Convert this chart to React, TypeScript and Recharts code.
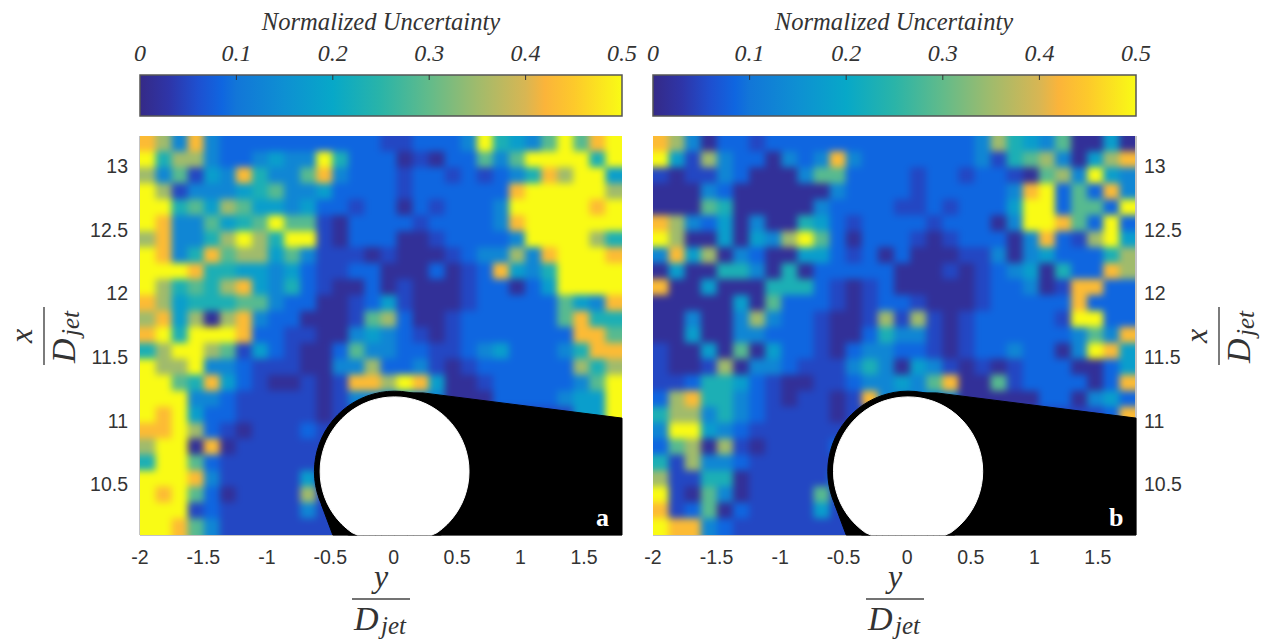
import React from 'react';
import { ScatterChart, Scatter, XAxis, YAxis, ReferenceArea } from 'recharts';

// Levels of uncertainty per cell, top row first, left column first.
const panelA: number[][] = [
  [8,7,3,8,3,2,2,2,2,2,2,2,2,2,2,1,1,2,2,2,3,9,5,4,3,6,9,6,8,9],
  [9,5,7,7,3,2,2,3,4,3,3,9,5,2,2,2,0,1,0,2,2,6,3,6,9,9,9,9,5,9],
  [7,3,6,1,4,3,8,5,3,3,6,8,3,2,2,2,1,2,2,1,2,1,2,3,5,8,7,9,9,4],
  [9,7,1,3,3,3,4,5,6,3,3,4,2,2,2,2,1,2,2,2,2,2,2,8,9,9,9,9,9,7],
  [9,9,5,6,4,7,6,4,4,3,4,2,2,1,2,2,0,2,1,2,2,2,3,9,9,9,9,9,8,9],
  [9,8,3,3,6,4,5,6,9,6,6,1,0,2,2,2,2,1,2,2,2,2,3,8,9,9,9,9,9,9],
  [7,8,3,3,5,7,9,7,5,9,9,1,0,2,2,2,0,0,1,2,2,2,2,3,9,9,9,9,7,5],
  [9,8,3,5,8,6,7,7,4,6,3,1,1,1,0,1,0,0,0,1,2,3,3,7,3,8,9,9,9,8],
  [9,9,9,8,5,5,4,4,3,4,2,1,1,2,2,0,0,0,2,0,1,2,8,4,3,5,9,9,9,9],
  [9,7,5,6,5,7,8,4,3,5,2,1,0,0,2,0,1,0,0,0,1,2,2,0,2,4,9,9,9,9],
  [8,7,4,5,5,5,6,6,3,2,2,0,0,1,2,4,1,0,0,0,1,2,2,2,2,2,6,4,3,8],
  [7,8,4,7,0,7,8,3,2,2,0,0,0,1,6,7,2,0,0,1,2,2,2,2,2,2,6,8,5,5],
  [8,9,5,9,9,9,8,2,2,1,1,0,0,3,4,3,2,1,0,1,2,2,2,2,2,2,2,8,8,6],
  [5,7,9,9,7,6,1,4,2,1,0,0,2,6,3,3,2,2,1,1,2,3,4,2,2,2,3,5,8,8],
  [9,7,7,9,3,3,2,1,1,1,0,0,3,3,7,2,2,3,1,0,1,2,2,2,2,2,2,7,5,7],
  [9,9,6,5,8,4,2,1,0,0,1,0,1,8,8,7,9,8,4,0,0,1,2,2,2,2,2,3,6,9],
  [9,9,9,3,3,2,1,1,1,1,1,0,1,3,3,3,3,3,3,0,0,0,2,2,2,2,3,4,4,9],
  [9,8,9,4,2,2,1,1,1,1,1,0,1,1,1,1,1,1,1,1,1,1,1,1,1,1,1,4,4,9],
  [8,8,9,7,2,1,0,1,1,1,2,1,1],
  [7,9,9,0,8,0,1,1,1,1,1,1,1],
  [5,9,9,6,2,1,1,1,1,1,1,1,1],
  [9,9,9,8,3,1,1,1,1,1,4,1,1],
  [9,8,9,6,2,0,1,1,1,1,7,1,1],
  [9,9,9,1,2,1,1,1,1,1,3,1,1],
  [9,9,8,6,3,1,1,1,1,1,1,1,1],
];

const panelB: number[][] = [
  [8,7,3,0,2,2,1,2,2,2,2,2,2,2,2,2,2,2,2,2,3,7,5,4,3,6,0,0,4,0],
  [9,4,1,7,3,2,2,0,3,2,3,8,3,2,2,2,2,2,2,2,3,1,5,6,7,3,0,4,7,8],
  [1,0,1,1,3,2,0,0,0,3,6,6,2,2,2,2,1,2,2,1,2,2,1,0,6,7,3,9,4,3],
  [0,0,0,3,2,0,0,0,0,0,0,3,2,2,2,2,1,2,2,2,2,2,3,8,9,2,6,2,8,3],
  [0,0,0,6,5,0,0,0,0,0,3,2,2,2,2,1,1,2,1,2,2,2,4,9,9,2,6,6,2,9],
  [8,7,3,2,4,0,3,0,0,5,4,2,1,2,2,2,2,1,2,2,2,0,3,9,9,8,6,2,9,2],
  [9,7,0,0,4,0,4,3,7,9,6,2,0,2,2,2,1,0,1,2,2,2,0,3,8,2,1,7,9,4],
  [3,8,4,7,0,3,2,0,0,4,4,2,1,2,0,2,0,0,0,1,1,3,0,3,4,2,2,2,5,7],
  [0,4,0,0,5,5,3,0,5,0,2,2,2,2,2,0,0,0,1,0,1,2,3,4,0,5,2,2,8,7],
  [8,0,0,4,0,0,0,5,5,5,2,1,0,1,2,0,0,0,0,0,1,2,2,3,0,1,8,8,2,2],
  [0,0,0,0,0,4,0,6,2,2,2,1,0,1,2,2,1,0,0,0,1,2,2,2,2,2,8,2,2,2],
  [0,0,3,0,0,3,7,3,2,2,1,0,0,1,7,1,7,1,0,1,2,2,2,2,2,1,9,9,2,2],
  [0,0,4,0,0,3,3,2,2,2,1,0,0,2,5,3,3,1,0,1,2,2,2,2,2,2,3,6,3,8],
  [1,0,0,4,0,6,0,4,2,2,1,0,2,3,3,2,2,1,0,1,2,2,3,2,2,0,3,9,8,4],
  [1,0,0,1,7,0,3,3,2,1,1,1,3,5,3,0,4,3,1,0,1,0,1,2,2,2,0,0,2,4],
  [1,1,2,5,5,4,2,1,0,0,1,1,2,3,3,4,3,6,8,0,0,6,1,2,2,2,2,0,2,8],
  [2,7,8,5,5,3,2,1,0,1,1,0,1,8,3,3,3,3,3,0,0,0,0,0,2,2,0,3,4,2],
  [5,7,7,3,5,3,2,1,1,1,1,0,1,1,1,1,1,1,1,1,1,1,1,1,1,1,1,1,2,8],
  [3,9,9,4,3,2,1,1,1,1,1,1,1],
  [2,6,7,0,7,1,0,1,1,1,1,2,3],
  [5,1,7,3,3,2,1,1,1,1,1,1,1],
  [7,1,1,5,5,0,1,1,1,1,1,3,1],
  [9,1,0,6,3,0,1,1,1,1,6,1,1],
  [8,1,2,6,0,2,1,1,1,1,4,1,1],
  [9,8,8,3,2,1,1,1,1,1,1,1,1],
];

const levelValues = [0.015, 0.05, 0.085, 0.13, 0.18, 0.23, 0.29, 0.35, 0.43, 0.5];
const xTicks = [-2, -1.5, -1, -0.5, 0, 0.5, 1, 1.5];
const yTicks = [10.5, 11, 11.5, 12, 12.5, 13];
const barTicks = [0, 0.1, 0.2, 0.3, 0.4, 0.5];
const barInnerTicks = [0.1, 0.2, 0.3, 0.4];
const colorStops: [number, string][] = [
  [0, '#352a87'], [0.03, '#2e35a8'], [0.06, '#1e50d0'], [0.085, '#0f66e0'], [0.1, '#1276d8'],
  [0.15, '#0e90d2'], [0.2, '#07a8c8'], [0.25, '#2ab4a8'], [0.3, '#62bb8a'], [0.35, '#a0bb6c'],
  [0.4, '#d8b653'], [0.42, '#fbb43a'], [0.45, '#fdc92b'], [0.5, '#f9fb15'],
];
const wedge = [
  { x: 0, y: 11.22 }, { x: 0.232, y: 11.218 }, { x: 1.8, y: 11.02 }, { x: 1.8, y: 10.1 },
  { x: -0.48, y: 10.1 }, { x: -0.57, y: 10.34 }, { x: 0, y: 10.6 },
];

const X0 = -2, X1 = 1.8, Y0 = 10.1, Y1 = 13.24;
const NC = 30, NR = 25;
const CX = 0.007, CY = 10.6, R_OUT = 0.632, R_IN = 0.587;

function hex(c: string) { return [1, 3, 5].map((i) => parseInt(c.slice(i, i + 2), 16)); }
function colorOf(v: number) {
  for (let i = 1; i < colorStops.length; i++) {
    const [a, ca] = colorStops[i - 1];
    const [b, cb] = colorStops[i];
    if (v <= b) {
      const t = (v - a) / (b - a);
      const p = hex(ca), q = hex(cb);
      return `rgb(${p.map((e, k) => Math.round(e + (q[k] - e) * t)).join(',')})`;
    }
  }
  return colorStops[colorStops.length - 1][1];
}
function cells(panel: number[][]) {
  const out: any[] = [];
  panel.forEach((row, r) => row.forEach((lv, c) => {
    out.push({
      x: X0 + ((c + 0.5) * (X1 - X0)) / NC,
      y: Y1 - ((r + 0.5) * (Y1 - Y0)) / NR,
      v: levelValues[lv],
      edgeL: c === 0, edgeR: c === NC - 1, edgeT: r === 0, edgeB: r === NR - 1,
    });
  }));
  return out;
}
function disc(radius: number) {
  const pts: { x: number; y: number }[] = [];
  for (let i = 0; i < 72; i++) {
    const a = (i / 72) * Math.PI * 2;
    pts.push({ x: CX + radius * Math.cos(a), y: Math.max(Y0, CY + radius * Math.sin(a)) });
  }
  pts.push(pts[0]);
  return pts;
}

const CellShape = (p: any) => {
  const s = 8.6, e = 14;
  const { cx, cy, payload: d } = p;
  const l = cx - s - (d.edgeL ? e : 0), r = cx + s + (d.edgeR ? e : 0);
  const t = cy - s - (d.edgeT ? e : 0), b = cy + s + (d.edgeB ? e : 0);
  return <rect x={l} y={t} width={r - l} height={b - t} fill={colorOf(d.v)} />;
};
const Nothing = () => <g />;
const tickStyle = { fontFamily: '"Liberation Sans", Arial, sans-serif', fontSize: 19.5, fill: '#333' };
const SERIF = '"Liberation Serif", "Times New Roman", serif';

function Panel({ data, left, width, plotLeft, plotRight, right, id }: any) {
  return (
    <div style={{ position: 'absolute', left, top: 0 }}>
      <ScatterChart width={width} height={639} margin={{ top: 136, bottom: 64, left: plotLeft, right: plotRight }}>
        <defs>
          <clipPath id={id} clipPathUnits="userSpaceOnUse">
            <rect x={plotLeft + (right ? 0 : 40)} y={136} width={482} height={399} />
          </clipPath>
        </defs>
        <XAxis type="number" dataKey="x" domain={[X0, X1]} ticks={xTicks} height={40} tick={tickStyle}
          tickLine={false} tickMargin={9} axisLine={{ stroke: '#888' }} interval={0} allowDecimals />
        <YAxis type="number" dataKey="y" domain={[Y0, Y1]} ticks={yTicks} width={40} orientation={right ? 'right' : 'left'}
          tick={tickStyle} tickLine={false} tickMargin={right ? 2 : 6} axisLine={{ stroke: '#888' }} interval={0} />
        <Scatter className={`heat-${id}`} data={data} shape={CellShape} isAnimationActive={false} />
        <Scatter data={disc(R_OUT)} shape={Nothing} line={{ stroke: '#000', fill: '#000' }} isAnimationActive={false} />
        <Scatter data={wedge} shape={Nothing} line={{ stroke: '#000', fill: '#000' }} isAnimationActive={false} />
        <Scatter data={disc(R_IN)} shape={Nothing} line={{ stroke: '#fff', fill: '#fff' }} isAnimationActive={false} />
      </ScatterChart>
    </div>
  );
}

const BarTick = (p: any) => <line x1={p.cx} x2={p.cx} y1={p.cy} y2={p.cy + 5} stroke="#333" strokeWidth={1} />;

function ColorBar({ left, width, plotLeft, plotRight, id }: any) {
  return (
    <div style={{ position: 'absolute', left, top: 0 }}>
      <ScatterChart width={width} height={120} margin={{ top: 45, bottom: 4, left: plotLeft, right: plotRight }}>
        <defs>
          <linearGradient id={id} x1="0" x2="1" y1="0" y2="0">
            {colorStops.map(([v, c]) => <stop key={v} offset={v / 0.5} stopColor={c} />)}
          </linearGradient>
        </defs>
        <XAxis type="number" dataKey="x" orientation="top" domain={[0, 0.5]} ticks={barTicks} height={30} interval={0}
          axisLine={false} tickLine={false} tickMargin={8}
          tick={{ fontFamily: SERIF, fontStyle: 'italic', fontSize: 24, fill: '#333' }} />
        <YAxis type="number" dataKey="y" domain={[0, 1]} hide />
        <ReferenceArea x1={0} x2={0.5} y1={0} y2={1} fill={`url(#${id})`} fillOpacity={1} stroke="#555" strokeWidth={1.5} ifOverflow="visible" />
        <Scatter data={barInnerTicks.map((x) => ({ x, y: 1 }))} shape={BarTick} isAnimationActive={false} />
      </ScatterChart>
    </div>
  );
}

function Frac({ cx, cy, num, vertical }: any) {
  const tf = vertical ? `translate(${cx},${cy}) rotate(-90)` : `translate(${cx},${cy})`;
  return (
    <g transform={tf} fill="#333" fontFamily={SERIF} fontStyle="italic">
      <text x={0} y={-12} fontSize={32} textAnchor="middle">{num}</text>
      <line x1={-29} x2={29} y1={0} y2={0} stroke="#444" strokeWidth={1.4} />
      <text x={-27} y={31} fontSize={34}>D</text>
      <text x={0} y={35} fontSize={25}>jet</text>
    </g>
  );
}

const titleStyle: React.CSSProperties = {
  position: 'absolute', top: 8, fontFamily: SERIF, fontStyle: 'italic', fontSize: 24.6, color: '#333',
  width: 400, textAlign: 'center', whiteSpace: 'nowrap',
};
const markStyle: React.CSSProperties = {
  position: 'absolute', fontFamily: SERIF, fontWeight: 700, fontSize: 26, color: '#fff', lineHeight: '26px',
};

const dataA = cells(panelA);
const dataB = cells(panelB);

export default function App() {
  return (
    <div style={{ position: 'absolute', left: 0, top: 0, width: 1266, height: 639, background: '#fff', overflow: 'hidden' }}>
      <style>{`
        .heat-clipA { filter: blur(3.6px); clip-path: url(#clipA); }
        .heat-clipB { filter: blur(3.6px); clip-path: url(#clipB); }
      `}</style>
      <Panel data={dataA} id="clipA" left={0} width={632} plotLeft={100} plotRight={10} right={false} />
      <Panel data={dataB} id="clipB" left={640} width={626} plotLeft={13} plotRight={90} right />
      <ColorBar id="gradA" left={0} width={640} plotLeft={140} plotRight={18} />
      <ColorBar id="gradB" left={640} width={626} plotLeft={13} plotRight={130} />
      <div style={{ ...titleStyle, left: 181 }}>Normalized Uncertainty</div>
      <div style={{ ...titleStyle, left: 694 }}>Normalized Uncertainty</div>
      <div style={{ ...markStyle, left: 596, top: 505 }}>a</div>
      <div style={{ ...markStyle, left: 1109, top: 505 }}>b</div>
      <svg width={1266} height={639} style={{ position: 'absolute', left: 0, top: 0, pointerEvents: 'none' }}>
        <Frac cx={381} cy={599} num="y" />
        <Frac cx={895} cy={599} num="y" />
        <Frac cx={44} cy={336} num="x" vertical />
        <Frac cx={1219} cy={336} num="x" vertical />
      </svg>
    </div>
  );
}
